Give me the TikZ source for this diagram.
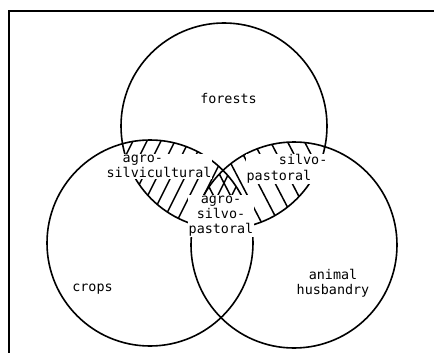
\documentclass[tikz,border=0pt]{standalone}
\usepackage{fontspec}
\newfontfamily\monofont{DejaVu Sans Mono}
\usepackage{tikz}

\begin{document}
\begin{tikzpicture}[
    x=1pt, y=-1pt,
    venn/.style={line width=1.6pt},
    hatch/.style={line width=1.5pt},
    frame/.style={line width=2pt},
    lbl/.style={fill=white, inner sep=1pt, align=center,
      font=\monofont\fontsize{13.4}{15.5}\selectfont},
  ]
  \useasboundingbox (0,0) rectangle (434,353);

  % circle centres
  \coordinate (forest) at (224,126);
  \coordinate (crop)   at (150,243);
  \coordinate (animal) at (294,245);
  \def\rad{103}

  % frame
  \draw[frame] (440,11) -- (9,11) -- (9,360);

  % forests / crops overlap
  \begin{scope}
    \clip (forest) circle[radius=\rad];
    \clip (crop) circle[radius=\rad];
    \foreach \k in {-5,...,7}
      \draw[hatch] ({192+14*\k},135) -- ({129.5+14*\k},260);
  \end{scope}

  % forests / animals overlap
  \begin{scope}
    \clip (forest) circle[radius=\rad];
    \clip (animal) circle[radius=\rad];
    \foreach \k in {-4,...,6}
      \draw[hatch] ({213.4+17*\k},130) -- ({281+17*\k},260);
  \end{scope}

  % circles
  \draw[venn] (forest) circle[radius=\rad];
  \draw[venn] (crop) circle[radius=\rad];
  \draw[venn] (animal) circle[radius=\rad];

  % labels
  \node[lbl, anchor=base] (forests) at (228.5,103) {forests};
  \node[lbl, anchor=base] (crops) at (92.5,291) {crops};
  \node[lbl] (husbandry) at (333,283.5) {animal\\husbandry};
  \node[lbl, align=left] (agrosilvi) at (159,166.5)
    {\hphantom{ss}agro-\\silvicultural};
  \node[lbl, align=left] (silvopast) at (287,169)
    {\hphantom{ssss}silvo-\\pastoral};
  \node[lbl, font=\monofont\fontsize{13.4}{15}\selectfont] (agrosilvopast)
    at (221,216) {agro-\\silvo-\\pastoral};

\end{tikzpicture}
\end{document}
